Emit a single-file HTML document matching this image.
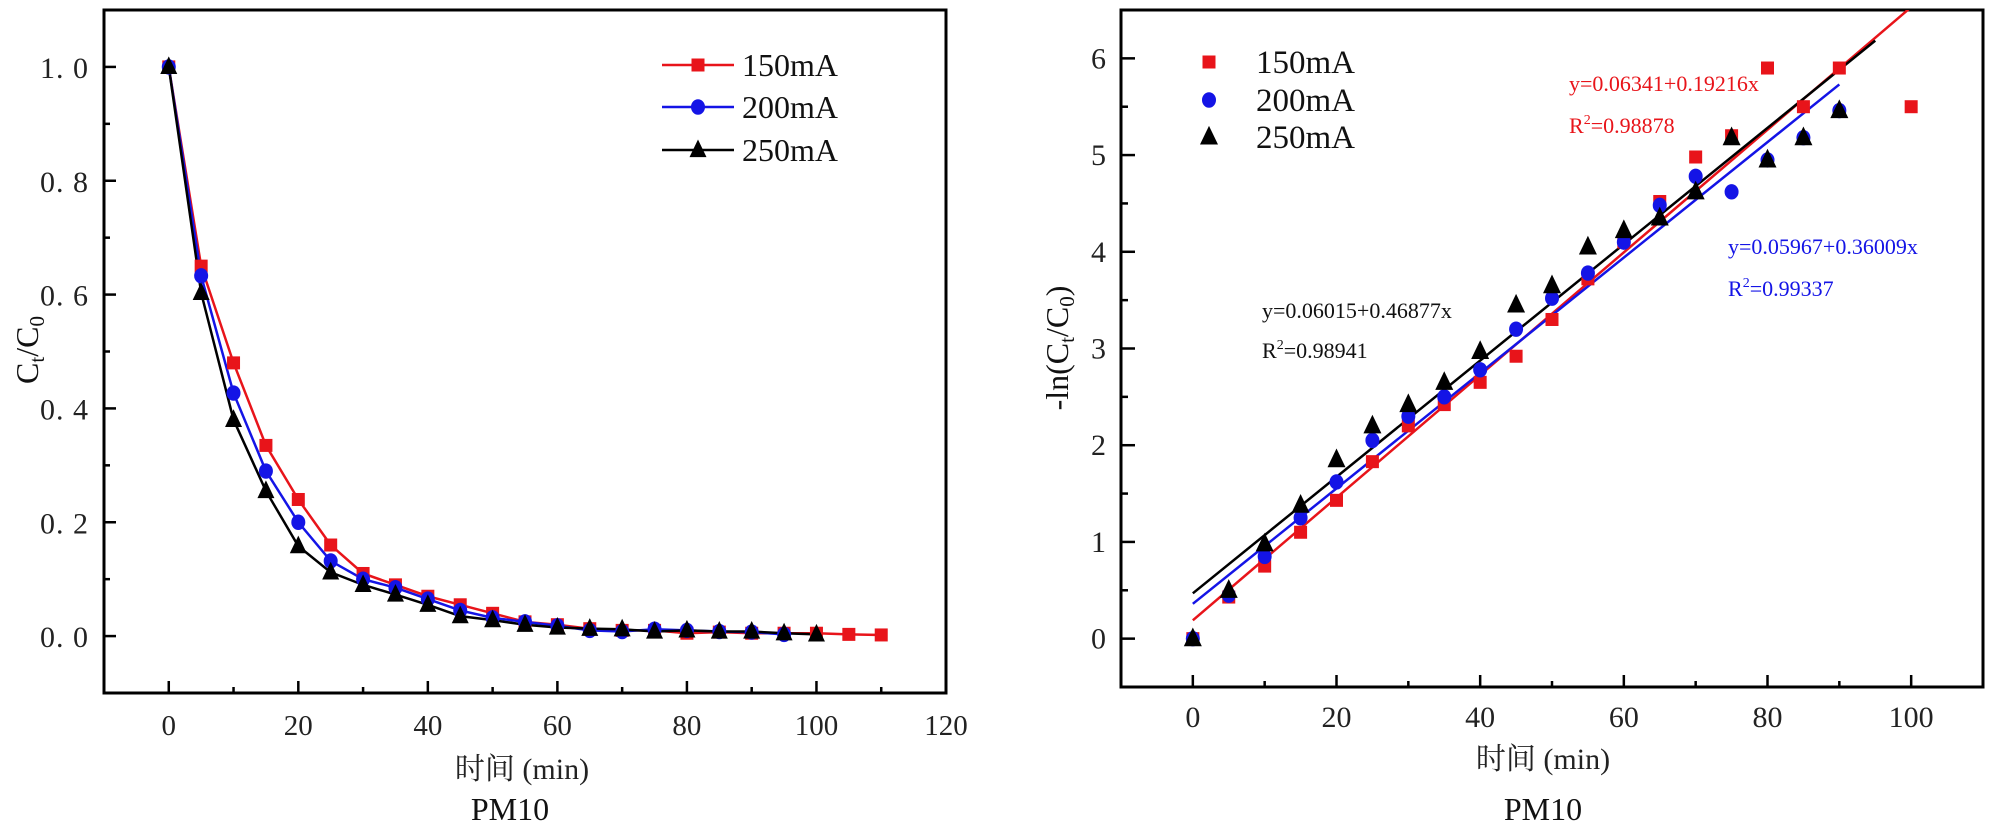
<!DOCTYPE html>
<html><head><meta charset="utf-8">
<style>
html,body{margin:0;padding:0;background:#fff;}
svg{display:block;}
text{font-family:"Liberation Serif","Noto Serif CJK SC",serif;}
</style></head>
<body>
<svg id="chart" width="2000" height="824" viewBox="0 0 2000 824" xmlns="http://www.w3.org/2000/svg">
<g id="left"></g>
<g id="right"></g>
</svg>
<script>
// ---- Left chart data ----
const leftX150 = [0,5,10,15,20,25,30,35,40,45,50,55,60,65,70,75,80,85,90,95,100,105,110];
const leftY150 = [1,0.65,0.48,0.335,0.24,0.16,0.11,0.09,0.07,0.055,0.04,0.025,0.02,0.013,0.01,0.01,0.005,0.007,0.005,0.005,0.005,0.003,0.002];
const leftX200 = [0,5,10,15,20,25,30,35,40,45,50,55,60,65,70,75,80,85,90,95];
const leftY200 = [1,0.633,0.427,0.29,0.2,0.132,0.1,0.085,0.065,0.045,0.032,0.025,0.018,0.01,0.008,0.012,0.01,0.008,0.007,0.003];
const leftX250 = [0,5,10,15,20,25,30,35,40,45,50,55,60,65,70,75,80,85,90,95,100];
const leftY250 = [1,0.603,0.38,0.255,0.158,0.112,0.09,0.073,0.055,0.035,0.028,0.02,0.015,0.013,0.012,0.008,0.01,0.008,0.008,0.005,0.003];
const leftXTicks = [0,20,40,60,80,100,120];
const leftYTicks = [0,0.2,0.4,0.6,0.8,1.0];
const leftYTickLabels = ["0. 0","0. 2","0. 4","0. 6","0. 8","1. 0"];
// ---- Right chart data ----
const rightX150 = [0,5,10,15,20,25,30,35,40,45,50,55,60,65,70,75,80,85,90,100];
const rightY150 = [0,0.43,0.75,1.1,1.43,1.83,2.2,2.42,2.65,2.92,3.3,3.72,4.1,4.52,4.98,5.2,5.9,5.5,5.9,5.5];
const rightX200 = [0,5,10,15,20,25,30,35,40,45,50,55,60,65,70,75,80,85,90];
const rightY200 = [0,0.45,0.85,1.25,1.62,2.05,2.3,2.5,2.78,3.2,3.52,3.78,4.1,4.48,4.78,4.62,4.95,5.18,5.46];
const rightX250 = [0,5,10,15,20,25,30,35,40,45,50,55,60,65,70,75,80,85,90];
const rightY250 = [0,0.5,0.98,1.38,1.85,2.2,2.42,2.65,2.97,3.45,3.65,4.05,4.22,4.35,4.62,5.18,4.95,5.18,5.46];
const fitIntercepts = [0.19,0.36,0.469];
const fitSlopes = [0.0634,0.05967,0.06015];
const fitXEnd = [110,90,95];
const rightXTicks = [0,20,40,60,80,100];
const rightYTicks = [0,1,2,3,4,5,6];

const NS="http://www.w3.org/2000/svg";
function mk(parent,tag,attrs,txt){const e=document.createElementNS(NS,tag);for(const k in attrs)e.setAttribute(k,attrs[k]);if(txt!==undefined)e.textContent=txt;parent.appendChild(e);return e;}
function marker(g,shape,cx,cy,color,s){
  let e;
  if(shape==='sq'){e=mk(g,'rect',{x:cx-s/2,y:cy-s/2,width:s,height:s,fill:color});}
  else if(shape==='ci'){e=mk(g,'ellipse',{cx:cx,cy:cy,rx:s/2,ry:s/2*1.1,fill:color});}
  else {e=mk(g,'polygon',{points:`${cx},${cy-s*0.62} ${cx-s/2},${cy+s*0.42} ${cx+s/2},${cy+s*0.42}`,fill:color});}
  return e;
}

// ===== LEFT =====
(function(){
const g=document.getElementById('left');
const L=104,R=946,T=10,B=693;
const xs=v=>L+(v+10)/130*(R-L);
const ys=v=>B-(v+0.1)/1.2*(B-T);
const frame=mk(g,'rect',{x:L,y:T,width:R-L,height:B-T,fill:'none',stroke:'#000','stroke-width':3});


for(let v=0;v<=120;v+=10){ const maj=v%20===0;
  mk(g,'line',{x1:xs(v),x2:xs(v),y1:B,y2:B-(maj?12:6),stroke:'#000','stroke-width':2.5});}
leftXTicks.forEach(v=>{const t=mk(g,'text',{x:xs(v),y:735,'font-size':29,'text-anchor':'middle',fill:'#222'},String(v));
  });
for(let v=0;v<=1.01;v+=0.1){const maj=Math.round(v*10)%2===0;
  mk(g,'line',{x1:L,x2:L+(maj?12:6),y1:ys(v),y2:ys(v),stroke:'#000','stroke-width':2.5});}
leftYTicks.forEach((v,i)=>{const t=mk(g,'text',{x:89,y:ys(v)+11,'font-size':30,'text-anchor':'end',fill:'#222','letter-spacing':'1'},leftYTickLabels[i]);
  });
const yt=mk(g,'text',{transform:'translate(38,350) rotate(-90)','font-size':32,'text-anchor':'middle',fill:'#111'});

mk(yt,'tspan',{},'C');mk(yt,'tspan',{'font-size':21,dy:6},'t');mk(yt,'tspan',{dy:-6},'/C');mk(yt,'tspan',{'font-size':21,dy:6},'0');
const xt=mk(g,'text',{x:522,y:779,'font-size':30,'text-anchor':'middle',fill:'#222','font-family':'Noto Serif CJK SC, serif'},'时间 (min)');

const pm=mk(g,'text',{x:510,y:820,'font-size':32,'text-anchor':'middle',fill:'#111'},'PM10');

const series=[[leftX150,leftY150,'#e8141a','sq','150mA'],[leftX200,leftY200,'#1414e6','ci','200mA'],[leftX250,leftY250,'#000','tr','250mA']];
series.forEach((s,si)=>{
  const pts=s[0].map((x,i)=>xs(x)+','+ys(s[1][i])).join(' ');
  const pl=mk(g,'polyline',{points:pts,fill:'none',stroke:s[2],'stroke-width':2.5});
  
});
series.forEach((s)=>{
  s[0].forEach((x,i)=>{const m=marker(g,s[3],xs(x),ys(s[1][i]),s[2],s[3]==='tr'?17:(s[3]==='ci'?14:13));
    });
});
// legend
series.forEach((s,i)=>{const y=[65,107,150][i];
  const lg=mk(g,'g',{});
  mk(lg,'line',{x1:662,x2:734,y1:y,y2:y,stroke:s[2],'stroke-width':2.5});
  marker(lg,s[3],698,y,s[2],s[3]==='tr'?17:(s[3]==='ci'?14:13));
  mk(lg,'text',{x:742,y:y+11,'font-size':32,fill:'#111'},s[4]);
});
})();

// ===== RIGHT =====
(function(){
const g=document.getElementById('right');
const L=1121,R=1983,T=10,B=687;
const xs=v=>L+(v+10)/120*(R-L);
const ys=v=>B-(v+0.5)/7*(B-T);
mk(g,'defs',{}).innerHTML=`<clipPath id="rc"><rect x="${L}" y="${T}" width="${R-L}" height="${B-T}"/></clipPath>`;
const frame=mk(g,'rect',{x:L,y:T,width:R-L,height:B-T,fill:'none',stroke:'#000','stroke-width':3});

for(let v=0;v<=100;v+=10){const maj=v%20===0;
  mk(g,'line',{x1:xs(v),x2:xs(v),y1:B,y2:B-(maj?12:6),stroke:'#000','stroke-width':2.5});}
rightXTicks.forEach(v=>{const t=mk(g,'text',{x:xs(v),y:727,'font-size':30,'text-anchor':'middle',fill:'#222'},String(v));
  });
for(let v=0;v<=6.01;v+=0.5){const maj=Math.abs(v-Math.round(v))<0.01;
  mk(g,'line',{x1:L,x2:L+(maj?14:7),y1:ys(v),y2:ys(v),stroke:'#000','stroke-width':2.5});}
rightYTicks.forEach(v=>{const t=mk(g,'text',{x:1106,y:ys(v)+10,'font-size':30,'text-anchor':'end',fill:'#222'},String(v));
  });
const yt=mk(g,'text',{transform:'translate(1068,348) rotate(-90)','font-size':32,'text-anchor':'middle',fill:'#111'});

mk(yt,'tspan',{},'-ln(C');mk(yt,'tspan',{'font-size':21,dy:6},'t');mk(yt,'tspan',{dy:-6},'/C');mk(yt,'tspan',{'font-size':21,dy:6},'0');mk(yt,'tspan',{dy:-6},')');
const xt=mk(g,'text',{x:1543,y:769,'font-size':30,'text-anchor':'middle',fill:'#222','font-family':'Noto Serif CJK SC, serif'},'时间 (min)');

const pm=mk(g,'text',{x:1543,y:820,'font-size':32,'text-anchor':'middle',fill:'#111'},'PM10');

const cols=['#e8141a','#1414e6','#000'];const names=['150mA','200mA','250mA'];const shapes=['sq','ci','tr'];
const cg=mk(g,'g',{'clip-path':'url(#rc)'});
fitIntercepts.forEach((b,i)=>{const l=mk(cg,'line',{x1:xs(0),y1:ys(b),x2:xs(fitXEnd[i]),y2:ys(b+fitSlopes[i]*fitXEnd[i]),stroke:cols[i],'stroke-width':2.5});
  });
[[rightX150,rightY150],[rightX200,rightY200],[rightX250,rightY250]].forEach((s,si)=>{
  s[0].forEach((x,i)=>{const m=marker(g,shapes[si],xs(x),ys(s[1][i]),cols[si],si===2?18:(si===1?14:13));
    });
});
names.forEach((n,i)=>{const y=[62,100,137][i];
  const lg=mk(g,'g',{});
  marker(lg,shapes[i],1209,y,cols[i],i===2?18:(i===1?14:13));
  mk(lg,'text',{x:1256,y:y+11,'font-size':33,fill:'#111'},n);
});
const ann=[[1569,91,'y=0.06341+0.19216x',cols[0],'red-fit-equation'],[1569,133,'R2=0.98878',cols[0],'red-fit-r2'],
 [1728,254,'y=0.05967+0.36009x',cols[1],'blue-fit-equation'],[1728,296,'R2=0.99337',cols[1],'blue-fit-r2'],
 [1262,318,'y=0.06015+0.46877x','#111','black-fit-equation'],[1262,358,'R2=0.98941','#111','black-fit-r2']];
ann.forEach(a=>{const t=mk(g,'text',{x:a[0],y:a[1],'font-size':22,fill:a[3]});
  
  if(a[2].startsWith('R2')){mk(t,'tspan',{},'R');mk(t,'tspan',{'font-size':14,dy:-9},'2');mk(t,'tspan',{dy:9},a[2].slice(2));}
  else t.textContent=a[2];});
})();
</script>
</body></html>
